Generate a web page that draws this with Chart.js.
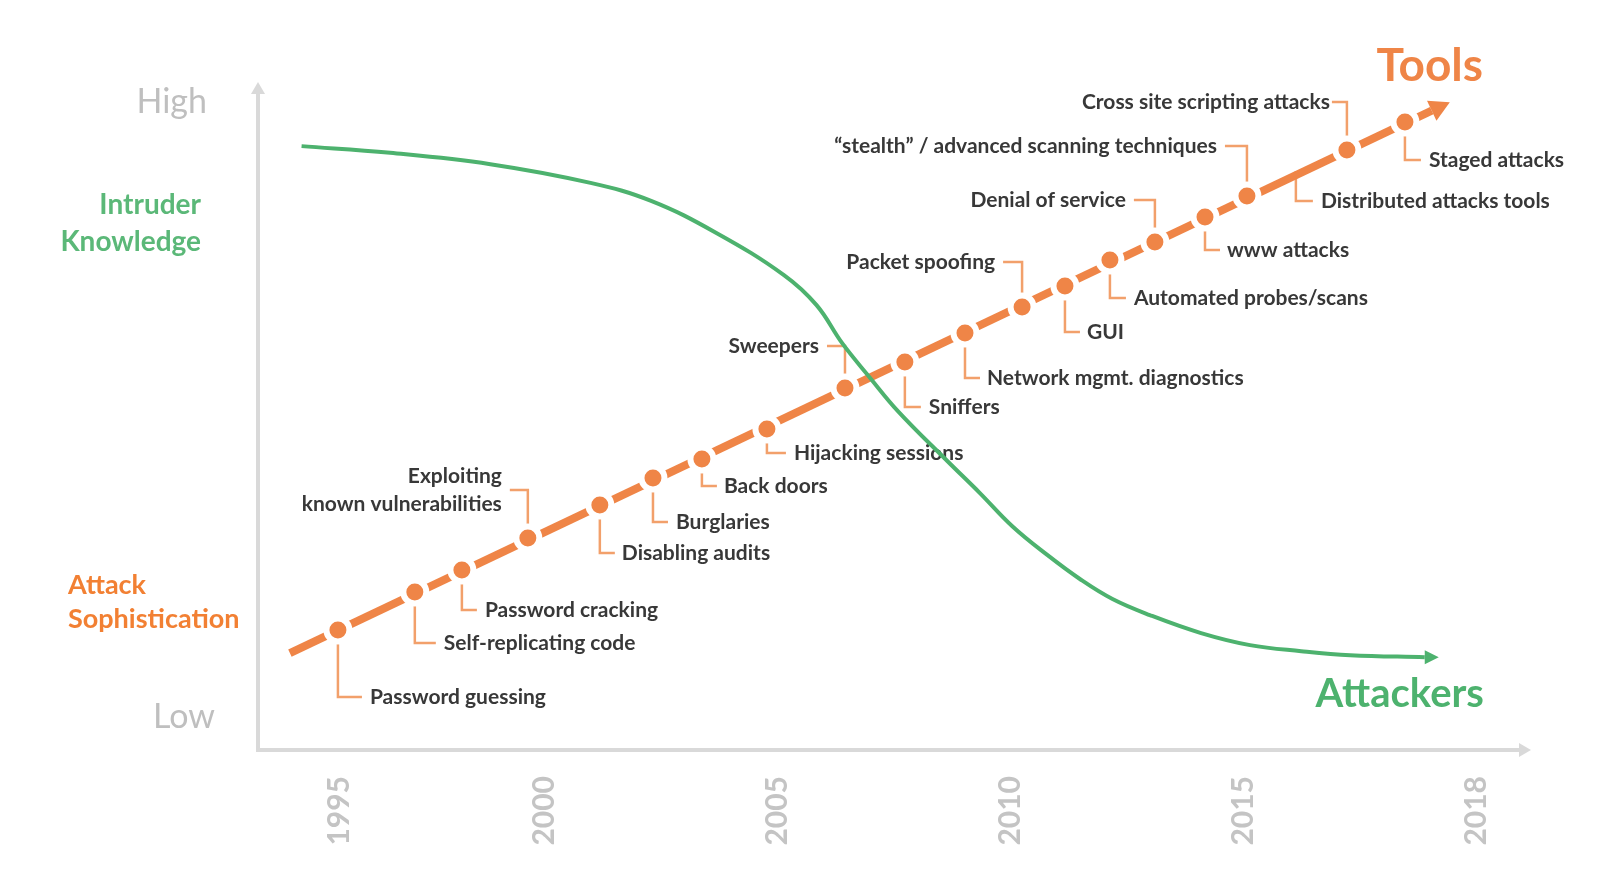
<!DOCTYPE html>
<html>
<head>
<meta charset="utf-8">
<script src="https://cdn.jsdelivr.net/npm/chart.js@4.4.0/dist/chart.umd.min.js"></script>
<style>
  html, body { margin: 0; padding: 0; background: #fff; }
  #wrap { width: 1600px; height: 896px; }
</style>
</head>
<body>
<div id="wrap"><canvas id="chart"></canvas></div>
<script>
// x values are "year slots": the year ticks sit on equal steps (2015 -> 2018 as wide as 5 years)
const years = ['1995', '2000', '2005', '2010', '2015', '2018'];
const yearSlots = [0.12, 1, 2, 3, 4, 5];

// Intruder knowledge curve (green, "Attackers"), y runs 0 = Low .. 100 = High
const knowledgeX = [-0.04, 0.34, 0.77, 1.20, 1.46, 1.74, 2.03, 2.17, 2.28, 2.40, 2.52, 2.73, 2.87, 3.01, 3.16, 3.30, 3.44, 3.60, 3.82, 4.03, 4.25, 4.46, 4.78];
const knowledgeY = [90.4, 89.4, 87.7, 84.9, 82.2, 77.4, 71.1, 66.6, 60.9, 55.7, 50.7, 43.3, 38.5, 33.5, 29.2, 25.6, 22.6, 20.2, 17.5, 15.7, 14.8, 14.2, 13.9];

// Attack sophistication trend (orange, "Tools")
const toolsX = [-0.09, 4.81];
const toolsY = [14.5, 95.7];

// milestones along the tools trend
const eventNames = [
  'Password guessing', 'Self-replicating code', 'Password cracking',
  ['Exploiting', 'known vulnerabilities'], 'Disabling audits', 'Burglaries',
  'Back doors', 'Hijacking sessions', 'Sweepers', 'Sniffers',
  'Network mgmt. diagnostics', 'Packet spoofing', 'GUI', 'Automated probes/scans',
  'Denial of service', 'www attacks', '\u201Cstealth\u201D / advanced scanning techniques',
  'Distributed attacks tools', 'Cross site scripting attacks', 'Staged attacks'
];
const eventX = [0.116, 0.446, 0.648, 0.931, 1.240, 1.468, 1.678, 1.957, 2.292, 2.549, 2.807, 3.052, 3.236, 3.429, 3.622, 3.837, 4.017, 4.227, 4.446, 4.695];
const eventY = [17.96, 23.65, 26.95, 31.74, 36.68, 40.72, 43.56, 48.05, 54.19, 58.08, 62.43, 66.32, 69.46, 73.35, 76.05, 79.79, 82.93, 86.68, 89.82, 94.01];
const noDot = ['Distributed attacks tools'];

// callout layout: side of the trend, drop length and label distance from the dot (px)
const calloutSide = ['down', 'down', 'down', 'up', 'down', 'down', 'down', 'down', 'up', 'down',
                     'down', 'up', 'down', 'down', 'up', 'down', 'up', 'down', 'up', 'down'];
const calloutLen = [67, 51, 40, 48, 48, 44, 27, 24, 42, 45, 45, 45, 46, 38, 42, 33, 50, 30, 48, 38];
const calloutGap = [32, 29, 23, 26, 22, 23, 22, 27, 26, 24, 22, 27, 22, 24, 29, 22, 30, 25, 17, 24];

const ORANGE = '#EF8547';
const GREEN = '#4DB26E';
const AXIS = '#D9D9D9';
const FONT = 'Lato, "Open Sans", sans-serif';

function arrowHead(ctx, x0, y0, x1, y1, len, half, color) {
  const a = Math.atan2(y1 - y0, x1 - x0);
  ctx.save();
  ctx.translate(x1, y1);
  ctx.rotate(a);
  ctx.beginPath();
  ctx.moveTo(len, 0);
  ctx.lineTo(0, -half);
  ctx.lineTo(0, half);
  ctx.closePath();
  ctx.fillStyle = color;
  ctx.fill();
  ctx.restore();
}

const decorations = {
  id: 'decorations',
  beforeDatasetsDraw(chart) {
    const { ctx, chartArea: ca, scales: { x, y } } = chart;
    ctx.save();

    // axes with arrows
    ctx.strokeStyle = AXIS;
    ctx.lineWidth = 4;
    ctx.beginPath();
    ctx.moveTo(ca.left, ca.top + 12);
    ctx.lineTo(ca.left, ca.bottom);
    ctx.lineTo(ca.right - 12, ca.bottom);
    ctx.stroke();
    arrowHead(ctx, ca.left, ca.bottom, ca.left, ca.top + 12, 12, 7, AXIS);
    arrowHead(ctx, ca.left, ca.bottom, ca.right - 12, ca.bottom, 12, 7, AXIS);

    // side labels
    const side = [
      { t: 'High', c: '#BFBFBF', f: '34px ' + FONT, a: 'right', dx: -51, v: 97 },
      { t: 'Intruder', c: '#5BB878', f: 'bold 28px ' + FONT, a: 'right', dx: -57, v: 81.6 },
      { t: 'Knowledge', c: '#5BB878', f: 'bold 28px ' + FONT, a: 'right', dx: -57, v: 76.0 },
      { t: 'Attack', c: '#F28033', f: 'bold 27px ' + FONT, a: 'left', dx: -190, v: 24.6 },
      { t: 'Sophistication', c: '#F28033', f: 'bold 27px ' + FONT, a: 'left', dx: -190, v: 19.5 },
      { t: 'Low', c: '#BFBFBF', f: '34px ' + FONT, a: 'right', dx: -43, v: 4.9 }
    ];
    ctx.textBaseline = 'middle';
    side.forEach(s => {
      ctx.font = s.f;
      ctx.fillStyle = s.c;
      ctx.textAlign = s.a;
      ctx.fillText(s.t, ca.left + s.dx, y.getPixelForValue(s.v));
    });

    // callout brackets and milestone labels
    ctx.font = 'bold 21px ' + FONT;
    ctx.fillStyle = '#383838';
    eventNames.forEach((name, i) => {
      const px = x.getPixelForValue(eventX[i]);
      const py = y.getPixelForValue(eventY[i]);
      const up = calloutSide[i] === 'up';
      const dir = up ? -1 : 1;
      const ly = py + dir * calloutLen[i];
      const arm = Math.max(calloutGap[i] - 8, 15);
      ctx.strokeStyle = '#F2A06B';
      ctx.lineWidth = 2.5;
      ctx.beginPath();
      ctx.moveTo(px, py);
      ctx.lineTo(px, ly);
      ctx.lineTo(px + dir * arm, ly);
      ctx.stroke();
      const lines = [].concat(name);
      ctx.textAlign = up ? 'right' : 'left';
      const tx = px + dir * calloutGap[i];
      lines.forEach((ln, k) => {
        ctx.fillText(ln, tx, ly + (k - (lines.length - 1) / 2) * 28);
      });
    });
    ctx.restore();
  },
  afterDatasetsDraw(chart) {
    const { ctx, scales: { x, y } } = chart;
    ctx.save();
    const n = toolsX.length;
    const tx0 = x.getPixelForValue(toolsX[n - 2]), ty0 = y.getPixelForValue(toolsY[n - 2]);
    const tx1 = x.getPixelForValue(toolsX[n - 1]), ty1 = y.getPixelForValue(toolsY[n - 1]);
    arrowHead(ctx, tx0, ty0, tx1, ty1, 20, 11, ORANGE);

    const m = knowledgeX.length;
    const gx1 = x.getPixelForValue(knowledgeX[m - 1]), gy1 = y.getPixelForValue(knowledgeY[m - 1]);
    arrowHead(ctx, gx1 - 1, gy1, gx1, gy1, 14, 7, GREEN);

    ctx.textBaseline = 'middle';
    ctx.textAlign = 'center';
    ctx.font = 'bold 46px ' + FONT;
    ctx.fillStyle = ORANGE;
    ctx.fillText('Tools', tx1 - 2, ty1 - 45);
    ctx.font = 'bold 40px ' + FONT;
    ctx.fillStyle = GREEN;
    ctx.fillText('Attackers', gx1 - 25, gy1 + 37);
    ctx.restore();
  }
};

new Chart(document.getElementById('chart'), {
  data: {
    datasets: [
      {
        type: 'line',
        label: 'Intruder Knowledge',
        data: knowledgeX.map((v, i) => ({ x: v, y: knowledgeY[i] })),
        borderColor: GREEN,
        borderWidth: 4,
        pointRadius: 0,
        tension: 0.4,
        order: 0
      },
      {
        type: 'scatter',
        label: 'Milestones',
        data: eventX.map((v, i) => ({ x: v, y: eventY[i] })),
        backgroundColor: ORANGE,
        borderColor: '#ffffff',
        borderWidth: 6,
        pointRadius: ctx => noDot.includes(eventNames[ctx.dataIndex]) ? 0 : 11.5,
        order: 1
      },
      {
        type: 'line',
        label: 'Attack Sophistication',
        data: toolsX.map((v, i) => ({ x: v, y: toolsY[i] })),
        borderColor: ORANGE,
        borderWidth: 8,
        pointRadius: 0,
        order: 2
      }
    ]
  },
  options: {
    responsive: true,
    maintainAspectRatio: false,
    animation: false,
    layout: { padding: { left: 258, right: 69, top: 82, bottom: 0 } },
    plugins: {
      legend: { display: false },
      tooltip: { enabled: false }
    },
    scales: {
      x: {
        type: 'linear',
        min: -0.227,
        max: 5.236,
        bounds: 'data',
        grid: { display: false, drawTicks: false },
        border: { display: false },
        afterBuildTicks: scale => { scale.ticks = yearSlots.map(v => ({ value: v })); },
        afterFit: scale => { scale.height = 146; },
        ticks: {
          autoSkip: false,
          minRotation: 90,
          maxRotation: 90,
          padding: 26,
          color: '#C4C4C4',
          font: { family: FONT, size: 30, weight: 'bold' },
          callback: (value, index) => years[index]
        }
      },
      y: {
        type: 'linear',
        min: 0,
        max: 100,
        display: false
      }
    }
  },
  plugins: [decorations]
});
</script>
</body>
</html>
